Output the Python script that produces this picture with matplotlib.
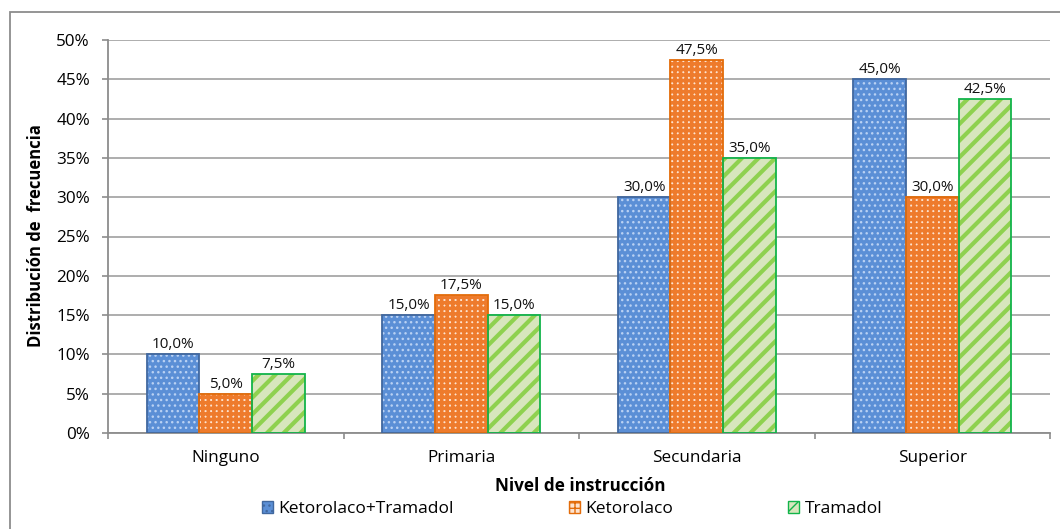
import numpy as np
import matplotlib
matplotlib.use('Agg')
import matplotlib.pyplot as plt
from matplotlib.patches import Patch, Rectangle

plt.rcParams['font.family'] = ['Open Sans', 'DejaVu Sans']

# datos
niveles = ['Ninguno', 'Primaria', 'Secundaria', 'Superior']
series = ['Ketorolaco+Tramadol', 'Ketorolaco', 'Tramadol']
keto_trama = [10.0, 15.0, 30.0, 45.0]
keto = [5.0, 17.5, 47.5, 30.0]
trama = [7.5, 15.0, 35.0, 42.5]
valores = [keto_trama, keto, trama]

# estilo de cada serie: relleno, trama, color de trama, borde, grosor de trama
estilos = [
    dict(fc='#5b8fd6', hatch='...', hc='#b9d1f3', ec='#41689f', hlw=1.0),
    dict(fc='#fde3cf', hatch='+++', hc='#ee7b2c', ec='#e36c0a', hlw=2.6),
    dict(fc='#d8e6bd', hatch='//', hc='#8fd14f', ec='#12b44a', hlw=3.0),
]

fig = plt.figure(figsize=(10.6, 5.29), dpi=100)
ax = fig.add_axes([108/1060, 1-433/529, 942/1060, 393/529])

x = np.arange(len(niveles))
w = 0.223
for k, (vals, st) in enumerate(zip(valores, estilos)):
    pos = x + (k-1)*w
    with plt.rc_context({'hatch.linewidth': st['hlw']}):
        capa = ax.bar(pos, vals, w, color=st['fc'], edgecolor=st['hc'],
                      linewidth=0, hatch=st['hatch'], zorder=2)
        for p in capa:
            if hasattr(p, 'set_hatch_linewidth'):
                p.set_hatch_linewidth(st['hlw'])
    ax.bar(pos, vals, w, fill=False, edgecolor=st['ec'], linewidth=1.3, zorder=3)
    for xi, v in zip(pos, vals):
        ax.annotate(f'{v:.1f}%'.replace('.', ','), (xi, v), xytext=(0, 1.5),
                    textcoords='offset points', ha='center', va='bottom',
                    fontsize=11, color='#111111')

ax.set_xlim(-0.5, 3.5)
ax.set_ylim(0, 50)
ax.set_yticks(np.arange(0, 51, 5))
ax.set_yticklabels([f'{v}%' for v in range(0, 51, 5)])
ax.set_xticks(x)
ax.set_xticklabels(niveles)
ax.set_xticks(np.arange(-0.5, 3.6, 1), minor=True)
ax.tick_params(axis='x', which='major', length=0, pad=12, labelsize=12.3)
ax.tick_params(axis='x', which='minor', length=4.5, color='#8c8c8c', width=1.2)
ax.tick_params(axis='y', length=4.5, color='#8c8c8c', width=1.2, labelsize=12.3, pad=8.5)
ax.yaxis.grid(True, color='#a0a0a0', linewidth=1.2, zorder=0)
ax.set_axisbelow(True)
for s in ['top', 'right']:
    ax.spines[s].set_visible(False)
for s in ['left', 'bottom']:
    ax.spines[s].set_color('#8c8c8c')
    ax.spines[s].set_linewidth(1.3)

fig.text(36/1060, 1-236/529, 'Distribución de  frecuencia', rotation=90,
         ha='center', va='center', fontsize=12, fontweight='bold')
fig.text(580/1060, 1-486/529, 'Nivel de instrucción', ha='center', va='center',
         fontsize=12.3, fontweight='bold')

# leyenda, una entrada por serie
leg_x = [262, 569, 788]
for nombre, st, lx in zip(series, estilos, leg_x):
    h = Patch(facecolor=st['fc'], edgecolor=st['ec'], hatch=st['hatch'], linewidth=1.0)
    lg = fig.legend([h], [nombre], loc='center left',
                    bbox_to_anchor=(lx/1060, 1-509/529), frameon=False,
                    fontsize=12.5, handlelength=0.65, handleheight=0.65,
                    handletextpad=0.3, borderpad=0, borderaxespad=0)

# borde del área del gráfico
fig.patches.append(Rectangle((10/1060, -0.05), 1.1, 1-12/529+0.05,
                             transform=fig.transFigure, fill=False,
                             edgecolor='#8c8c8c', linewidth=1.3))

fig.savefig('out.png', dpi=100)
